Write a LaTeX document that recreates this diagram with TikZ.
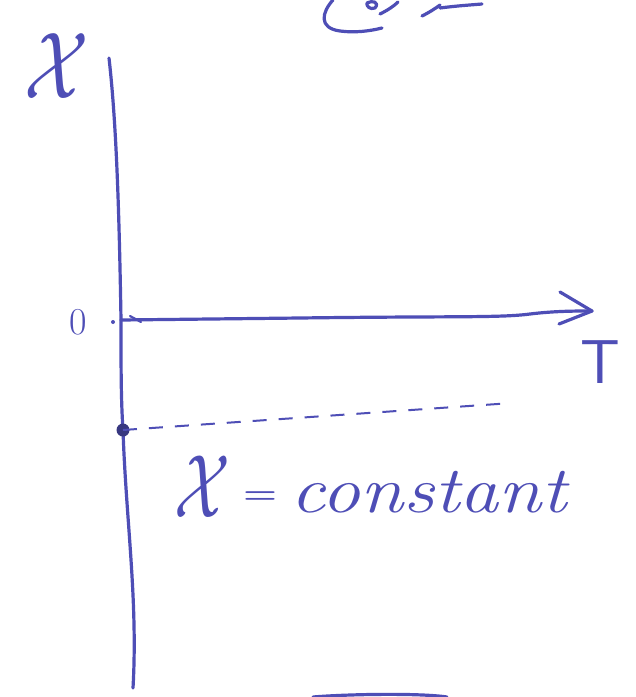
\documentclass[tikz,border=0pt]{standalone}
\usepackage{graphicx}
\begin{document}
\begin{tikzpicture}[x=1pt,y=-1pt,
  ink/.style={draw=inkblue,line width=3.2pt,line cap=round,line join=round},
  thinink/.style={draw=inkblue,line width=2.2pt,line cap=round},
  dashink/.style={draw=inkblue,line width=2pt,dash pattern=on 14pt off 12pt},
  lbl/.style={text=inkblue,inner sep=0pt}]
\definecolor{inkblue}{RGB}{78,78,182}
\useasboundingbox (0,0) rectangle (636,697);
\fill[white] (0,0) rectangle (636,697);
% coordinates
\coordinate (ytop) at (109,58);
\coordinate (origin) at (121,320);
\coordinate (mark) at (123,430);
\coordinate (ybot) at (133,688);
\coordinate (xend) at (592,311);
\coordinate (barbA) at (560,292);
\coordinate (barbB) at (559,324);
\coordinate (dashend) at (512,403);
% vertical axis
\draw[ink] (ytop) .. controls (116,120) and (119,200) .. (origin)
  .. controls (121,370) and (121,400) .. (mark)
  .. controls (126,520) and (138,600) .. (ybot);
% horizontal axis with open arrow tip
\draw[ink] (origin) -- (300,318) .. controls (450,316) and (500,318) .. (530,314)
  .. controls (555,311) and (575,311) .. (xend);
\draw[ink] (barbA) -- (xend) -- (barbB);
% origin tick
\draw[thinink] (130,316) -- (141,322);
% dot and mark
\fill[inkblue] (113,322) circle (2pt);
\fill[inkblue!70!black] (mark) circle (6.5pt);
% dashed constant line
\draw[dashink] (mark) -- (dashend);
% labels
\node[lbl] (xlab) at (57,66) {\scalebox{7.5}[9.5]{\normalsize$\mathcal{X}$}};
\node[lbl,font=\fontsize{38}{38}\selectfont] (zero) at (78,322) {0};
\node[lbl,font=\fontsize{62}{62}\selectfont\sffamily] (tlab) at (600,362) {T};
\node[lbl] (eqx) at (202,487) {\scalebox{6.5}[9]{\normalsize$\mathcal{X}$}};
\node[lbl] (eqsign) at (260,498) {\scalebox{3.8}[3]{\normalsize\bfseries =}};
\node[lbl,font=\fontsize{66}{66}\selectfont\itshape,anchor=base west] (eqword) at (290,512) {\scalebox{1.18}[1]{constant}};
% cut-off handwriting at the top
\draw[ink] (333,0) .. controls (322,12) and (318,28) .. (340,31) .. controls (355,33) and (370,31) .. (382,28);
\draw[ink] (367,3) .. controls (372,0) and (380,2) .. (375,8) .. controls (370,10) and (366,6) .. (367,3);
\draw[ink] (380,14) .. controls (388,10) and (394,6) .. (398,2);
\draw[ink] (422,16) .. controls (430,12) and (436,8) .. (440,5);
\draw[ink] (440,8) .. controls (455,6) and (470,5) .. (482,4);
% cut-off stroke at the bottom
\draw[ink] (313,697) .. controls (350,694) and (420,693) .. (447,697);
\end{tikzpicture}
\end{document}
